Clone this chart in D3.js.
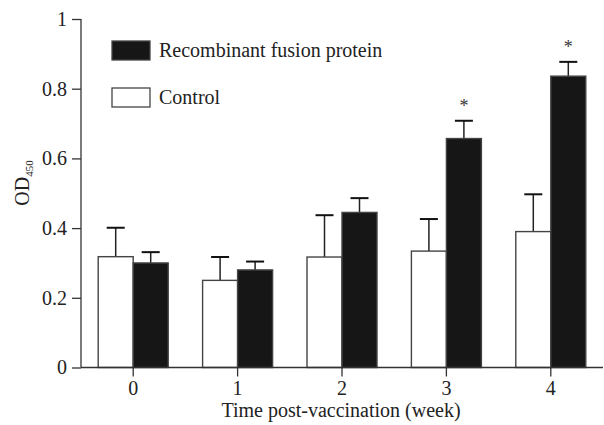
<!DOCTYPE html>
<html>
<head>
<meta charset="utf-8">
<script src="https://cdn.jsdelivr.net/npm/d3@7"></script>
<style>
  body { margin: 0; background: #fff; }
  svg { display: block; font-family: "Liberation Serif", "Times New Roman", serif; }
  .axis path, .axis line { stroke: #333; stroke-width: 1.3; }
  .axis text { font-size: 20px; fill: #222; font-family: "Liberation Serif", serif; }
</style>
</head>
<body>
<div id="chart"></div>
<script>
// data
var weeks = ["0", "1", "2", "3", "4"];
var controlMean = [0.318, 0.250, 0.317, 0.334, 0.390];
var controlSD = [0.083, 0.067, 0.120, 0.092, 0.107];
var fusionMean = [0.300, 0.280, 0.445, 0.657, 0.836];
var fusionSD = [0.031, 0.024, 0.041, 0.051, 0.041];
var significant = [false, false, false, true, true];
var yTicks = [0, 0.2, 0.4, 0.6, 0.8, 1];
var seriesNames = ["Recombinant fusion protein", "Control"];

function init() {
  var width = 604;
  var height = 425;
  var left = 81, right = 603, top = 19, bottom = 367.5;
  var barW = 35;

  var svg = d3.select("#chart")
    .append("svg")
    .attr("width", width)
    .attr("height", height);

  var x = d3.scaleBand()
    .domain(weeks)
    .range([left, right])
    .padding(0);

  var y = d3.scaleLinear()
    .domain([0, 1])
    .range([bottom, top]);

  var rows = weeks.map(function(w, i) {
    return [
      { week: w, key: "control", mean: controlMean[i], sd: controlSD[i], off: -barW, star: false },
      { week: w, key: "fusion", mean: fusionMean[i], sd: fusionSD[i], off: 0, star: significant[i] }
    ];
  });
  var bars = [].concat.apply([], rows);

  function cx(d) { return x(d.week) + x.bandwidth() / 2 + d.off + barW / 2; }

  // error bars (upper only)
  var eb = svg.selectAll("g.err")
    .data(bars)
    .enter()
    .append("g")
    .attr("class", "err");

  eb.append("line")
    .attr("x1", cx)
    .attr("x2", cx)
    .attr("y1", function(d) { return y(d.mean); })
    .attr("y2", function(d) { return y(d.mean + d.sd); })
    .attr("stroke", "#222")
    .attr("stroke-width", 1.5);

  eb.append("line")
    .attr("x1", function(d) { return cx(d) - 9; })
    .attr("x2", function(d) { return cx(d) + 9; })
    .attr("y1", function(d) { return y(d.mean + d.sd); })
    .attr("y2", function(d) { return y(d.mean + d.sd); })
    .attr("stroke", "#111")
    .attr("stroke-width", 2);

  svg.selectAll("rect.bar")
    .data(bars)
    .enter()
    .append("rect")
    .attr("class", "bar")
    .attr("x", function(d) { return x(d.week) + x.bandwidth() / 2 + d.off; })
    .attr("y", function(d) { return y(d.mean); })
    .attr("width", barW)
    .attr("height", function(d) { return y(0) - y(d.mean); })
    .attr("fill", function(d) { return d.key == "fusion" ? "#161616" : "#fff"; })
    .attr("stroke", "#444")
    .attr("stroke-width", 1.4);

  svg.selectAll("text.star")
    .data(bars.filter(function(d) { return d.star; }))
    .enter()
    .append("text")
    .attr("class", "star")
    .attr("x", cx)
    .attr("y", function(d) { return y(d.mean + d.sd) - 9; })
    .attr("text-anchor", "middle")
    .attr("font-size", "18px")
    .attr("fill", "#333")
    .text("*");

  var xAxis = d3.axisBottom(x).tickSize(9).tickPadding(4);
  var gx = svg.append("g")
    .attr("class", "axis")
    .attr("transform", "translate(0," + bottom + ")")
    .call(xAxis);
  gx.select(".domain").attr("d", "M" + left + ",0H" + right);

  var yAxis = d3.axisLeft(y).tickValues(yTicks).tickSize(9).tickPadding(5)
    .tickFormat(function(d) { return d === 0 || d === 1 ? d3.format("d")(d) : d3.format(".1f")(d); });
  var gy = svg.append("g")
    .attr("class", "axis")
    .attr("transform", "translate(" + left + ",0)")
    .call(yAxis);
  gy.select(".domain").attr("d", "M0," + top + "V" + bottom);

  // axis titles
  svg.append("text")
    .attr("x", 341)
    .attr("y", 417)
    .attr("text-anchor", "middle")
    .attr("font-size", "20px")
    .attr("fill", "#222")
    .text("Time post-vaccination (week)");

  var yl = svg.append("text")
    .attr("transform", "translate(29,183) rotate(-90)")
    .attr("text-anchor", "middle")
    .attr("font-size", "20px")
    .attr("fill", "#222");
  yl.append("tspan").text("OD");
  yl.append("tspan").attr("font-size", "11px").attr("dy", 4).text("450");

  // legend
  var lg = svg.selectAll("g.legend")
    .data(seriesNames)
    .enter()
    .append("g")
    .attr("class", "legend")
    .attr("transform", function(d, i) { return "translate(112," + (41 + i * 47) + ")"; });

  lg.append("rect")
    .attr("width", 38)
    .attr("height", 19)
    .attr("fill", function(d, i) { return i == 0 ? "#161616" : "#fff"; })
    .attr("stroke", "#444")
    .attr("stroke-width", 1.3);

  lg.append("text")
    .attr("x", 47)
    .attr("y", 16)
    .attr("font-size", "20px")
    .attr("fill", "#222")
    .text(function(d) { return d; });
}
window.onload = init;
</script>
</body>
</html>
